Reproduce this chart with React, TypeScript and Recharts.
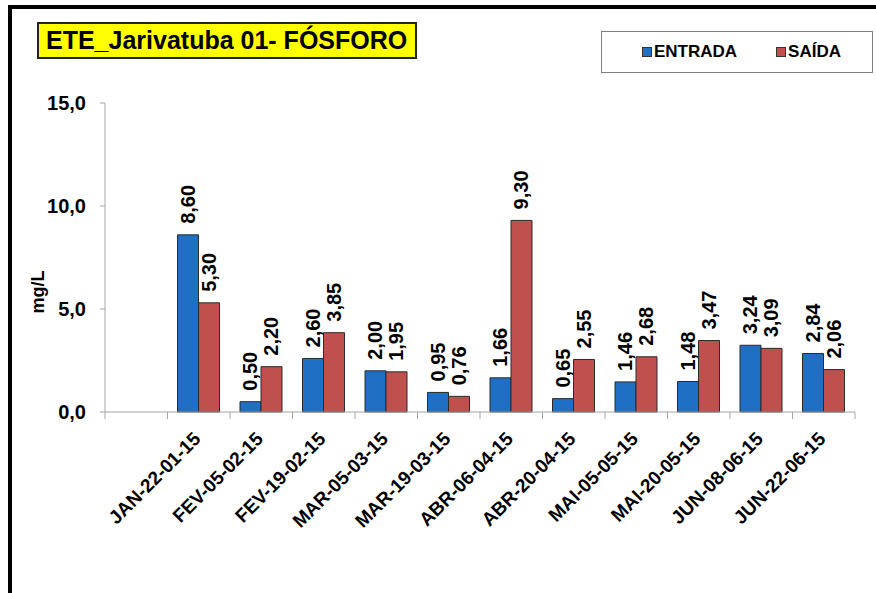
import { Bar, BarChart, LabelList, XAxis, YAxis } from 'recharts'

const categories = [
  '',
  'JAN-22-01-15',
  'FEV-05-02-15',
  'FEV-19-02-15',
  'MAR-05-03-15',
  'MAR-19-03-15',
  'ABR-06-04-15',
  'ABR-20-04-15',
  'MAI-05-05-15',
  'MAI-20-05-15',
  'JUN-08-06-15',
  'JUN-22-06-15',
]
const entrada = [null, 8.6, 0.5, 2.6, 2.0, 0.95, 1.66, 0.65, 1.46, 1.48, 3.24, 2.84]
const saida = [null, 5.3, 2.2, 3.85, 1.95, 0.76, 9.3, 2.55, 2.68, 3.47, 3.09, 2.06]
const yTicks = [0, 5, 10, 15]
const seriesNames = ['ENTRADA', 'SAÍDA']

const data = categories.map((name, i) => ({ name, entrada: entrada[i], saida: saida[i] }))

const FONT = '"Liberation Sans", Arial, sans-serif'
const W = 876
const H = 593
const M = { top: 103, right: 21, left: 0, bottom: 0 }
const Y_W = 105
const X_H = 181
const slot = (W - M.left - M.right - Y_W) / categories.length
const AXIS = '#a6a6a6'
const BLUE = '#1f6fc5'
const RED = '#c0504d'

const fmt = (v: number) => v.toFixed(2).replace('.', ',')

function XTick({ x, y, payload, index }: any) {
  const last = index === categories.length - 1
  return (
    <g transform={`translate(${x},${y - 8})`}>
      <line x1={-slot / 2} x2={-slot / 2} y1={0} y2={7} stroke={AXIS} />
      {last && <line x1={slot / 2} x2={slot / 2} y1={0} y2={7} stroke={AXIS} />}
      <text
        x={0}
        y={0}
        transform='translate(3,28) rotate(-45)'
        textAnchor='end'
        fontSize={19}
        fontWeight='bold'
        fontFamily={FONT}
        fill='#000'
      >
        {payload.value}
      </text>
    </g>
  )
}

function ValueLabel({ x, y, width, value }: any) {
  if (value == null) return null
  const cx = x + width / 2
  const cy = y - 11
  return (
    <text
      x={cx}
      y={cy}
      transform={`rotate(-90, ${cx}, ${cy})`}
      textAnchor='start'
      dominantBaseline='central'
      fontSize={20}
      fontWeight='bold'
      fontFamily={FONT}
      fill='#000'
    >
      {fmt(value)}
    </text>
  )
}

function LegendBox() {
  const colors = [BLUE, RED]
  return (
    <div
      style={{
        position: 'absolute',
        left: 601,
        top: 31,
        width: 272,
        height: 42,
        border: '1px solid #7f7f7f',
        display: 'flex',
        alignItems: 'center',
        justifyContent: 'center',
        gap: 39,
        boxSizing: 'border-box',
        fontFamily: FONT,
        fontWeight: 'bold',
        fontSize: 17,
        color: '#000',
        background: '#fff',
        paddingLeft: 9,
      }}
    >
      {seriesNames.map((label, i) => (
        <span key={label} style={{ display: 'flex', alignItems: 'center' }}>
          <span
            style={{
              width: 8,
              height: 8,
              background: colors[i],
              border: '1px solid #333',
              marginRight: 2,
              display: 'inline-block',
            }}
          />
          {label}
        </span>
      ))}
    </div>
  )
}

export default function App() {
  return (
    <div style={{ position: 'absolute', left: 0, top: 0, width: W, height: H, background: '#fff', overflow: 'hidden' }}>
      <div
        style={{
          position: 'absolute',
          left: 8,
          top: 5,
          width: W,
          height: H,
          borderLeft: '4px solid #000',
          borderTop: '4px solid #000',
        }}
      />
      <div
        style={{
          position: 'absolute',
          left: 37,
          top: 22,
          width: 380,
          height: 37,
          background: '#ffff00',
          border: '2px solid #222',
          boxSizing: 'border-box',
          fontFamily: FONT,
          fontWeight: 'bold',
          fontSize: 25,
          lineHeight: '33px',
          paddingLeft: 7,
          color: '#000',
          whiteSpace: 'nowrap',
        }}
      >
        ETE_Jarivatuba 01- FÓSFORO
      </div>
      <BarChart
        width={W}
        height={H}
        data={data}
        margin={M}
        barCategoryGap='16%'
        barGap={0}
        style={{ position: 'absolute', left: 0, top: 0 }}
      >
        <XAxis
          dataKey='name'
          height={X_H}
          interval={0}
          axisLine={{ stroke: AXIS }}
          tickLine={false}
          tick={<XTick />}
        />
        <YAxis
          width={Y_W}
          domain={[0, 15]}
          ticks={yTicks}
          tickFormatter={(v: number) => v.toFixed(1).replace('.', ',')}
          axisLine={{ stroke: AXIS }}
          tickLine={{ stroke: AXIS }}
          tickSize={5}
          tickMargin={14}
          tick={{ fontSize: 20, fontWeight: 'bold', fontFamily: FONT, fill: '#000' }}
          label={() => (
            <text
              x={38}
              y={292}
              transform='rotate(-90, 38, 292)'
              textAnchor='middle'
              dominantBaseline='central'
              fontSize={18}
              fontWeight='bold'
              fontFamily={FONT}
              fill='#000'
            >
              mg/L
            </text>
          )}
        />
        <Bar dataKey='entrada' name={seriesNames[0]} fill={BLUE} stroke='#2b2b2b' strokeWidth={1} isAnimationActive={false}>
          <LabelList dataKey='entrada' content={<ValueLabel />} />
        </Bar>
        <Bar dataKey='saida' name={seriesNames[1]} fill={RED} stroke='#2b2b2b' strokeWidth={1} isAnimationActive={false}>
          <LabelList dataKey='saida' content={<ValueLabel />} />
        </Bar>
      </BarChart>
      <LegendBox />
    </div>
  )
}
